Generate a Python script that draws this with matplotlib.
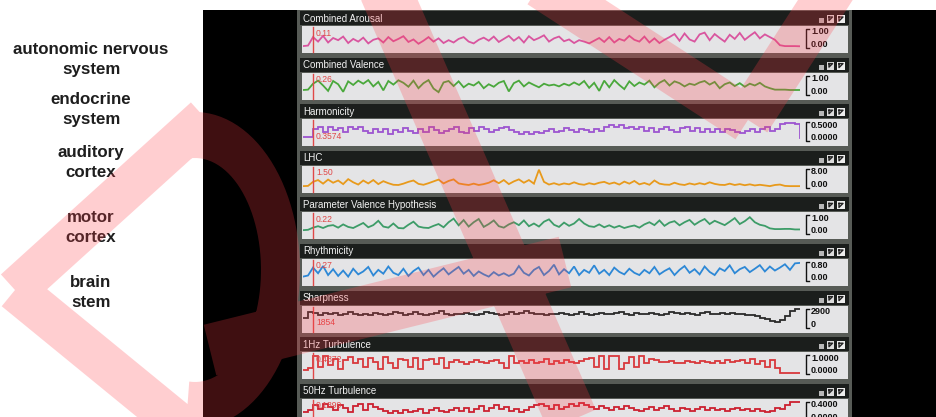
import numpy as np
import matplotlib
matplotlib.use('Agg')
import matplotlib.pyplot as plt
from matplotlib.patches import Rectangle, PathPatch
from matplotlib.path import Path
from matplotlib.lines import Line2D

# ---------------- data ----------------
titles = ["Combined Arousal", "Combined Valence", "Harmonicity", "LHC",
          "Parameter Valence Hypothesis", "Rhythmicity", "Sharpness",
          "1Hz Turbulence", "50Hz Turbulence"]
scale_top = ["1.00", "1.00", "0.5000", "8.00", "1.00", "0.80", "2900", "1.0000", "0.4000"]
scale_bot = ["0.00", "0.00", "0.0000", "0.00", "0.00", "0.00", "0", "0.0000", "0.0000"]
scale_max = [1.0, 1.0, 0.5, 8.0, 1.0, 0.8, 2900.0, 1.0, 0.4]
cursor_labels = ["0.11", "0.26", "0.3574", "1.50", "0.22", "0.27", "1854", "0.4872", "0.1899"]
left_labels = ["autonomic nervous\nsystem", "endocrine\nsystem", "auditory\ncortex",
               "motor\ncortex", "brain\nstem"]

arousal = [0.05,0.08,0.55,0.30,0.62,0.25,0.50,0.38,0.58,0.22,
           0.45,0.30,0.52,0.20,0.40,0.48,0.25,0.55,0.32,0.45,
           0.60,0.28,0.42,0.18,0.35,0.55,0.30,0.48,0.22,0.38,
           0.25,0.45,0.55,0.30,0.20,0.40,0.52,0.35,0.58,0.28,
           0.45,0.62,0.35,0.55,0.25,0.60,0.38,0.50,0.65,0.30,
           0.48,0.58,0.32,0.42,0.22,0.38,0.30,0.20,0.35,0.50,
           0.28,0.55,0.25,0.45,0.35,0.62,0.40,0.30,0.58,0.25,
           0.48,0.22,0.40,0.55,0.72,0.35,0.75,0.42,0.30,0.70,
           0.80,0.38,0.72,0.50,0.30,0.68,0.45,0.78,0.40,0.62,
           0.82,0.48,0.70,0.55,0.40,0.10,0.05,0.05,0.05,0.04]
valence = [0.20,0.22,0.55,0.72,0.45,0.15,0.70,0.52,0.10,0.68,
           0.48,0.72,0.55,0.75,0.40,0.65,0.18,0.70,0.50,0.74,
           0.60,0.38,0.72,0.30,0.58,0.75,0.28,0.08,0.62,0.70,
           0.42,0.68,0.35,0.55,0.45,0.65,0.30,0.52,0.38,0.60,
           0.70,0.12,0.58,0.72,0.40,0.62,0.48,0.35,0.55,0.45,
           0.50,0.40,0.55,0.45,0.62,0.48,0.70,0.32,0.60,0.15,
           0.72,0.35,0.75,0.48,0.25,0.68,0.42,0.62,0.50,0.72,
           0.35,0.60,0.75,0.45,0.68,0.58,0.40,0.55,0.48,0.62,
           0.70,0.50,0.65,0.30,0.52,0.62,0.42,0.58,0.38,0.55,
           0.45,0.60,0.40,0.30,0.22,0.22,0.22,0.20,0.20,0.20]
harmonicity = [0.08,0.10,0.30,0.36,0.24,0.38,0.28,0.34,0.22,0.36,
               0.30,0.38,0.26,0.20,0.30,0.22,0.32,0.18,0.28,0.24,
               0.34,0.26,0.20,0.32,0.24,0.36,0.28,0.20,0.26,0.32,
               0.36,0.24,0.20,0.34,0.26,0.38,0.30,0.22,0.28,0.34,
               0.38,0.28,0.22,0.18,0.24,0.16,0.22,0.20,0.26,0.30,
               0.22,0.26,0.34,0.28,0.24,0.32,0.28,0.22,0.30,0.26,
               0.36,0.42,0.38,0.42,0.34,0.38,0.30,0.36,0.26,0.34,
               0.24,0.32,0.38,0.28,0.22,0.34,0.38,0.26,0.34,0.24,
               0.32,0.22,0.30,0.24,0.32,0.28,0.22,0.20,0.26,0.30,
               0.24,0.30,0.36,0.26,0.30,0.46,0.49,0.48,0.45,0.06]
lhc = [0.3,0.4,2.2,3.0,1.4,3.2,1.8,2.8,1.2,3.4,
       2.0,1.0,2.8,1.5,3.0,1.2,2.5,1.6,0.9,0.8,
       1.4,2.2,2.8,1.3,0.9,1.6,2.4,3.2,1.5,2.6,
       3.3,1.5,1.1,0.8,1.4,0.8,1.2,1.8,2.9,1.6,
       3.0,1.2,2.4,3.3,1.8,3.0,1.4,7.6,2.2,1.0,
       1.6,0.9,1.5,1.1,2.0,1.2,0.9,1.6,1.1,1.8,
       2.2,1.3,1.9,1.0,2.3,1.4,2.6,1.1,1.7,0.9,
       2.8,1.4,1.0,0.9,1.8,1.1,0.8,1.5,1.0,1.6,
       1.1,2.0,1.3,0.9,0.8,1.4,0.8,1.2,0.7,1.1,
       0.6,0.9,0.6,0.3,0.8,1.0,0.4,0.3,0.3,0.3]
pvh = [0.18,0.20,0.32,0.40,0.30,0.42,0.46,0.32,0.50,0.36,
       0.30,0.44,0.58,0.34,0.46,0.70,0.38,0.32,0.55,0.30,
       0.28,0.48,0.65,0.38,0.32,0.30,0.42,0.52,0.34,0.62,
       0.82,0.45,0.74,0.38,0.62,0.80,0.36,0.52,0.72,0.40,
       0.32,0.50,0.62,0.46,0.72,0.40,0.55,0.38,0.65,0.78,
       0.48,0.36,0.60,0.42,0.55,0.80,0.55,0.40,0.36,0.50,
       0.34,0.45,0.32,0.42,0.30,0.38,0.44,0.32,0.50,0.62,
       0.46,0.72,0.42,0.60,0.68,0.45,0.62,0.75,0.48,0.66,
       0.80,0.52,0.70,0.58,0.46,0.65,0.85,0.52,0.68,0.90,
       0.62,0.48,0.42,0.28,0.24,0.24,0.25,0.25,0.22,0.22]
rhythmicity = [0.15,0.20,0.55,0.30,0.62,0.22,0.48,0.18,0.42,0.15,
               0.50,0.25,0.38,0.58,0.20,0.45,0.28,0.60,0.32,0.22,
               0.50,0.18,0.40,0.55,0.22,0.45,0.15,0.35,0.52,0.25,
               0.42,0.58,0.28,0.45,0.18,0.38,0.25,0.15,0.35,0.20,
               0.30,0.18,0.28,0.62,0.32,0.20,0.45,0.58,0.22,0.40,
               0.68,0.25,0.48,0.30,0.60,0.22,0.45,0.32,0.65,0.28,
               0.45,0.22,0.55,0.36,0.25,0.50,0.32,0.22,0.45,0.30,
               0.58,0.25,0.40,0.52,0.22,0.45,0.62,0.32,0.48,0.25,
               0.60,0.36,0.22,0.52,0.40,0.65,0.30,0.48,0.58,0.35,
               0.50,0.66,0.38,0.60,0.42,0.55,0.70,0.45,0.74,0.76]
sharpness = [1400,2300,2200,1900,2250,2000,2150,1850,2050,2300,
             2000,1800,2100,1900,2200,2050,1850,2100,2350,2150,
             1900,2000,2300,2100,1850,2000,2150,2450,2000,1850,
             1950,2100,2250,1950,1850,2050,2400,2150,1950,1800,
             2050,2300,1950,2150,2500,2250,1950,2050,1900,1950,
             2050,2250,2100,1900,2000,2300,2050,1900,2050,2200,
             1950,2050,2250,2400,2050,1900,2150,1950,2050,2250,
             2000,1850,2050,2350,2150,1950,2250,2050,1900,2150,
             2300,2050,1950,2200,2000,2250,2000,2050,1900,1800,
             1700,1450,1150,850,700,1000,1700,2500,2850,2900]
turb1 = [0.20,0.30,0.95,0.35,0.98,0.45,0.80,0.25,0.72,0.92,
         0.55,0.78,0.32,0.82,0.62,0.25,0.88,0.55,0.28,0.80,
         0.72,0.35,0.86,0.25,0.74,0.80,0.50,0.86,0.30,0.60,
         0.74,0.64,0.52,0.62,0.74,0.60,0.55,0.66,0.76,0.58,
         0.30,0.98,0.58,0.68,0.55,0.74,0.58,0.62,0.80,0.50,
         0.66,0.58,0.74,0.60,0.55,0.66,0.80,0.86,0.32,0.95,
         0.25,0.98,0.95,0.25,0.58,0.90,0.32,0.95,0.58,0.80,
         0.72,0.64,0.60,0.70,0.58,0.55,0.66,0.60,0.58,0.68,
         0.62,0.55,0.66,0.58,0.74,0.60,0.68,0.76,0.58,0.80,
         0.50,0.66,0.35,0.74,0.30,0.03,0.02,0.02,0.02,0.02]
turb50 = [0.18,0.22,0.34,0.24,0.36,0.28,0.22,0.34,0.26,0.18,
          0.30,0.35,0.22,0.36,0.28,0.24,0.20,0.16,0.19,0.16,
          0.22,0.17,0.20,0.25,0.16,0.22,0.26,0.19,0.17,0.22,
          0.27,0.20,0.26,0.17,0.24,0.30,0.20,0.27,0.33,0.24,
          0.28,0.20,0.25,0.17,0.21,0.28,0.32,0.36,0.30,0.25,
          0.32,0.23,0.28,0.35,0.30,0.37,0.32,0.28,0.24,0.30,
          0.27,0.22,0.29,0.24,0.30,0.26,0.22,0.19,0.25,0.29,
          0.22,0.27,0.31,0.24,0.20,0.27,0.23,0.19,0.25,0.29,
          0.22,0.27,0.21,0.25,0.19,0.23,0.27,0.21,0.25,0.19,
          0.23,0.19,0.17,0.20,0.26,0.24,0.32,0.39,0.40,0.40]

series = [arousal, valence, harmonicity, lhc, pvh, rhythmicity, sharpness, turb1, turb50]
colors = ["#d9559f", "#4aa83c", "#9d55d0", "#e89a1c", "#3d9c68", "#2d88d6",
          "#2a2a2a", "#d8383c", "#cc2030"]
stepped = [False, False, True, False, False, False, True, True, True]
label_below = [False, False, True, False, False, False, True, False, False]

# ---------------- figure ----------------
W, H = 936, 417
fig = plt.figure(figsize=(W / 100, H / 100), dpi=100)
fig.patch.set_facecolor("white")


def fx(x):
    return x / W


def fy(y):
    return 1 - y / H


def rect(x0, y0, x1, y1, color, z=-1):
    fig.add_artist(Rectangle((fx(x0), fy(y1)), (x1 - x0) / W, (y1 - y0) / H,
                             transform=fig.transFigure, facecolor=color,
                             edgecolor="none", zorder=z))


def line(xs, ys, color, lw, z=2):
    fig.add_artist(Line2D([fx(x) for x in xs], [fy(y) for y in ys],
                          transform=fig.transFigure, color=color, lw=lw, zorder=z))


rect(203, 10, 936, 417, "#000000", z=-5)
rect(297, 10, 852, 417, "#575b56", z=-4)

FONT = "Liberation Sans"
period = 46.6
for i, (title, vals) in enumerate(zip(titles, series)):
    y0 = 11 + period * i
    rect(300, y0, 849, y0 + 14, "#1b1e1c", z=-3)
    rect(302, y0 + 15, 848, y0 + 42, "#e4e4e6", z=-3)
    fig.text(fx(303), fy(y0 + 7.5), title, color="#f2f2f2", fontsize=7,
             family=FONT, va="center", ha="left", zorder=3)
    # header icons
    rect(819, y0 + 7, 824, y0 + 12, "#b8b8b8", z=-2)
    rect(827, y0 + 4, 834, y0 + 12, "#dcdcdc", z=-2)
    rect(837, y0 + 4, 845, y0 + 12, "#eeeeee", z=-2)
    line([829, 832.5, 829, 829], [y0 + 6, y0 + 6, y0 + 9.5, y0 + 6], "#222222", 1.0)
    line([839, 843, 839, 839], [y0 + 6, y0 + 6, y0 + 10, y0 + 6], "#222222", 1.0)

    vmax = scale_max[i]
    ax = fig.add_axes([fx(303), fy(y0 + 42), (800 - 303) / W, 27 / H])
    ax.set_xlim(0, len(vals) - 1)
    ax.set_ylim(-6 / 18 * vmax, vmax * (1 + 3 / 18))
    ax.axis("off")
    ax.patch.set_alpha(0)
    xs = np.arange(len(vals))
    ax.plot(xs, vals, color=colors[i], lw=1.3,
            drawstyle="steps-post" if stepped[i] else "default",
            solid_joinstyle="miter")
    # cursor
    line([313, 313], [y0 + 16, y0 + 41], "#e04848", 1.0, z=2.5)
    ly = y0 + 32 if label_below[i] else y0 + 22
    fig.text(fx(316), fy(ly), cursor_labels[i], color="#e04848", fontsize=6.2,
             family=FONT, va="center", ha="left", zorder=3)
    # scale bracket
    line([809, 806, 806, 809], [y0 + 18, y0 + 18, y0 + 37, y0 + 37], "#111111", 1.0)
    fig.text(fx(811), fy(y0 + 21), scale_top[i], color="#111111", fontsize=6.5,
             family=FONT, fontweight="bold", va="center", ha="left", zorder=3)
    fig.text(fx(811), fy(y0 + 33.5), scale_bot[i], color="#111111", fontsize=6.5,
             family=FONT, fontweight="bold", va="center", ha="left", zorder=3)

# left labels
left_y = [59.5, 109.5, 162.5, 227.5, 292.5]
for lab, ly in zip(left_labels, left_y):
    fig.text(fx(91), fy(ly), lab, color="#1e1e1e", fontsize=12.2, family=FONT,
             fontweight="bold", ha="center", va="center", linespacing=1.38, zorder=3)


# ---------------- watermark ----------------
def band(p0, p1, w):
    p0 = np.array(p0, float)
    p1 = np.array(p1, float)
    d = p1 - p0
    n = np.array([-d[1], d[0]]) / np.hypot(*d) * w / 2
    return [p0 + n, p1 + n, p1 - n, p0 - n]


def ring(cx, cy, ao, bo, ai, bi, t0, t1):
    t = np.linspace(np.radians(t0), np.radians(t1), 60)
    outer = [(cx + ao * np.cos(a), cy - bo * np.sin(a)) for a in t]
    inner = [(cx + ai * np.cos(a), cy - bi * np.sin(a)) for a in t[::-1]]
    return outer + inner


shapes = [
    band((15, 290), (205, 118), 42),
    band((15, 290), (180, 425), 42),
    ring(195, 270, 105, 158, 66, 112, -95, 95),
    band((385, -10), (572, 420), 52),
    band((210, 350), (565, 262), 52),
    band((540, -15), (748, 120), 46),
    band((748, 120), (835, -15), 46),
]
verts, codes = [], []
for s in shapes:
    pts = np.array(s, float)
    area = 0.5 * np.sum(pts[:, 0] * np.roll(pts[:, 1], -1) - np.roll(pts[:, 0], -1) * pts[:, 1])
    if area < 0:
        pts = pts[::-1]
    for k, (x, y) in enumerate(pts):
        verts.append((fx(x), fy(y)))
        codes.append(Path.MOVETO if k == 0 else Path.LINETO)
    verts.append((0, 0))
    codes.append(Path.CLOSEPOLY)
wm = PathPatch(Path(verts, codes), transform=fig.transFigure,
               facecolor=(1.0, 0.24, 0.28), edgecolor="none", alpha=0.25, zorder=10)
fig.add_artist(wm)

fig.savefig("out.png", dpi=100, facecolor="white")
